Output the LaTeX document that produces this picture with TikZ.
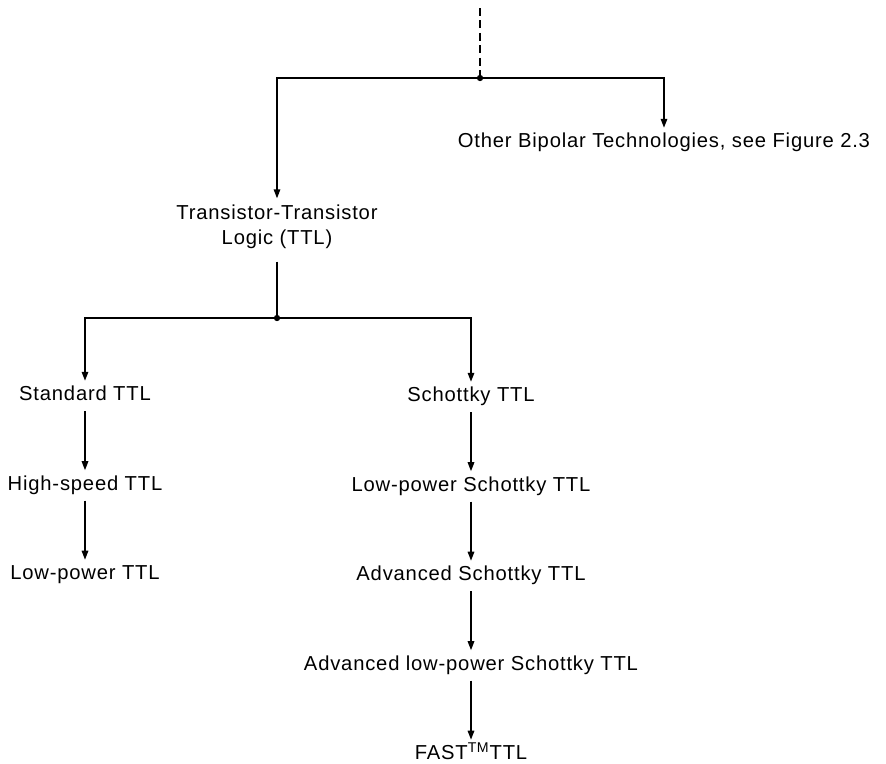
\documentclass[tikz,border=0pt]{standalone}
\usepackage{fontspec}
\newfontfamily\figfont{Liberation Sans}[LetterSpace=4.0]
\usetikzlibrary{arrows.meta, positioning}

\begin{document}
\begin{tikzpicture}[
        x=0.02cm, y=-0.02cm,
        node distance=1.18cm,
        every node/.style={font=\figfont\fontsize{11.5}{14.5}\selectfont, inner xsep=0pt, inner ysep=3.5pt, text height=2.7mm, text depth=0.8mm, align=center},
        arr/.style={-{Triangle[length=1.8mm, width=1.3mm]}, line width=0.9pt},
        link/.style={line width=0.9pt},
        feed/.style={line width=0.8pt, dash pattern=on 1.6mm off 0.9mm}
        ]
        \useasboundingbox (0,0) rectangle (886,764);

        % Nodes
        \node (other) at (664,143) {Other Bipolar Technologies, see Figure 2.3};
        \node[text height={}, text depth={}] (ttl) at (277,227) {Transistor-Transistor\\Logic (TTL)};
        \node (std) at (85,396) {Standard TTL};
        \node[below=of std] (hs) {High-speed TTL};
        \node[below=of hs] (lp) {Low-power TTL};
        \node (sch) at (471,397) {Schottky TTL};
        \node[below=of sch] (lps) {Low-power Schottky TTL};
        \node[below=of lps] (advsch) {Advanced Schottky TTL};
        \node[below=of advsch] (advlp) {Advanced low-power Schottky TTL};
        \node[below=of advlp] (fast) {FAST\textsuperscript{TM}TTL};

        % Junctions
        \coordinate (top) at (480,8);
        \coordinate (fork) at (480,78);
        \coordinate (split) at (277,318);
        \fill (fork) circle (1.8pt);
        \fill (split) circle (1.8pt);

        % Arrows
        \draw[feed] (top) -- (fork);
        \draw[arr] (fork) -| (ttl);
        \draw[arr] (fork) -| (other);
        \draw[link, shorten <=1.2mm] (ttl) -- (split);
        \draw[arr] (split) -| (std);
        \draw[arr] (split) -| (sch);
        \draw[arr] (std) -- (hs);
        \draw[arr] (hs) -- (lp);
        \draw[arr] (sch) -- (lps);
        \draw[arr] (lps) -- (advsch);
        \draw[arr] (advsch) -- (advlp);
        \draw[arr] (advlp) -- (fast);

\end{tikzpicture}
\end{document}
